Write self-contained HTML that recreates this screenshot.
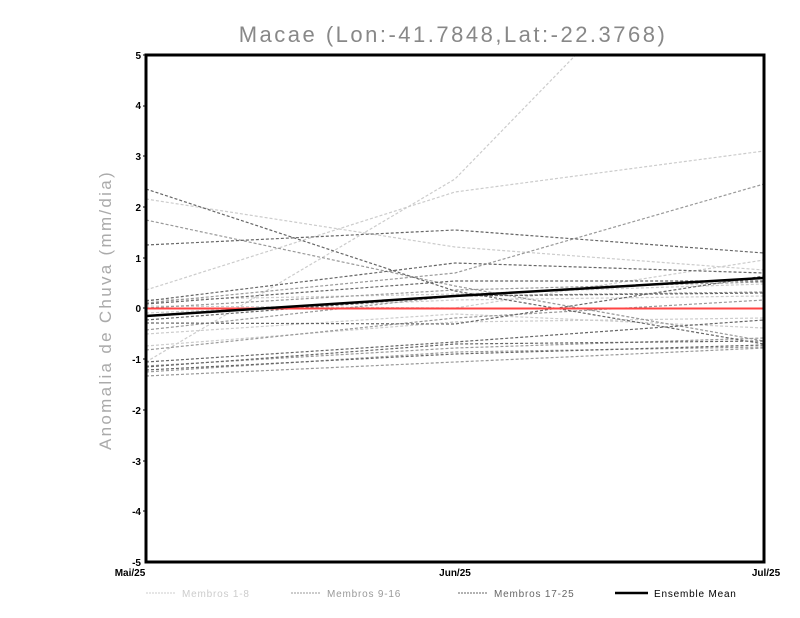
<!DOCTYPE html>
<html><head><meta charset="utf-8"><style>
body{margin:0;background:#fff;}
svg{display:block;font-family:"Liberation Sans",sans-serif;}
</style></head><body>
<svg width="800" height="618" viewBox="0 0 800 618" xmlns="http://www.w3.org/2000/svg">
<rect width="800" height="618" fill="#fff"/>
<text x="453" y="42" font-size="22" fill="#888" text-anchor="middle" letter-spacing="2.5">Macae (Lon:-41.7848,Lat:-22.3768)</text>
<text transform="translate(111,310) rotate(-90)" font-size="17" fill="#aaa" text-anchor="middle" letter-spacing="2.3">Anomalia de Chuva (mm/dia)</text>
<defs><clipPath id="c"><rect x="146" y="55" width="618" height="507"/></clipPath></defs>
<g clip-path="url(#c)" fill="none" stroke-width="1.2" stroke-dasharray="3,2">
<g stroke="#ccc">
<polyline points="146,362 455,179 600,30"/>
<polyline points="146,290 455,192 764,151"/>
<polyline points="146,199 455,247 764,270"/>
<polyline points="146,306 455,308 764,260"/>
<polyline points="146,334 455,314 764,328"/>
<polyline points="146,346 455,322 764,318"/>
<polyline points="146,313 455,300 764,296"/>
<polyline points="146,300 455,294 764,284"/>
</g>
<g stroke="#999">
<polyline points="146,220 455,286 764,341"/>
<polyline points="146,303 455,273 764,184"/>
<polyline points="146,330 455,296 764,292"/>
<polyline points="146,350 455,318 764,300"/>
<polyline points="146,366 455,348 764,338"/>
<polyline points="146,372 455,352 764,347"/>
<polyline points="146,376 455,362 764,348"/>
<polyline points="146,308 455,290 764,282"/>
</g>
<g stroke="#666">
<polyline points="146,189 455,291 764,344"/>
<polyline points="146,245 455,230 764,253"/>
<polyline points="146,301 455,263 764,273"/>
<polyline points="146,304 455,281 764,281"/>
<polyline points="146,320 455,296 764,293"/>
<polyline points="146,323 455,324 764,276"/>
<polyline points="146,362 455,342 764,320"/>
<polyline points="146,367 455,344 764,341"/>
<polyline points="146,370 455,354 764,345"/>
</g>
</g>
<line x1="146" y1="308.5" x2="764" y2="308.5" stroke="#f44" stroke-width="2"/>
<polyline points="146,316 455,296 764,278" fill="none" stroke="#000" stroke-width="2.5"/>
<rect x="146" y="55" width="618" height="507" fill="none" stroke="#000" stroke-width="3"/>
<g font-size="10" font-weight="bold" text-anchor="end" fill="#000">
<text x="141" y="59">5</text><text x="141" y="109">4</text><text x="141" y="160">3</text>
<text x="141" y="211">2</text><text x="141" y="262">1</text><text x="141" y="312">0</text>
<text x="141" y="363">-1</text><text x="141" y="414">-2</text><text x="141" y="465">-3</text>
<text x="141" y="515">-4</text><text x="141" y="566">-5</text>
</g>
<g stroke="#000" stroke-width="1">
<line x1="143" y1="55" x2="146" y2="55"/><line x1="143" y1="106" x2="146" y2="106"/><line x1="143" y1="156" x2="146" y2="156"/><line x1="143" y1="207" x2="146" y2="207"/><line x1="143" y1="258" x2="146" y2="258"/><line x1="143" y1="308" x2="146" y2="308"/><line x1="143" y1="359" x2="146" y2="359"/><line x1="143" y1="410" x2="146" y2="410"/><line x1="143" y1="461" x2="146" y2="461"/><line x1="143" y1="511" x2="146" y2="511"/>
</g>
<g font-size="10" font-weight="bold" fill="#000" text-anchor="middle">
<text x="130" y="576">Mai/25</text><text x="455" y="576">Jun/25</text><text x="766" y="576">Jul/25</text>
</g>
<g font-size="10" fill="#000" letter-spacing="0.8">
<line x1="146" y1="593" x2="176" y2="593" stroke="#ccc" stroke-dasharray="2,1"/>
<text x="182" y="597" fill="#ccc">Membros 1-8</text>
<line x1="291" y1="593" x2="321" y2="593" stroke="#999" stroke-dasharray="2,1"/>
<text x="327" y="597" fill="#999">Membros 9-16</text>
<line x1="458" y1="593" x2="488" y2="593" stroke="#666" stroke-dasharray="2,1"/>
<text x="494" y="597" fill="#666">Membros 17-25</text>
<line x1="615" y1="593" x2="648" y2="593" stroke="#000" stroke-width="2.5"/>
<text x="654" y="597">Ensemble Mean</text>
</g>
</svg>
</body></html>
